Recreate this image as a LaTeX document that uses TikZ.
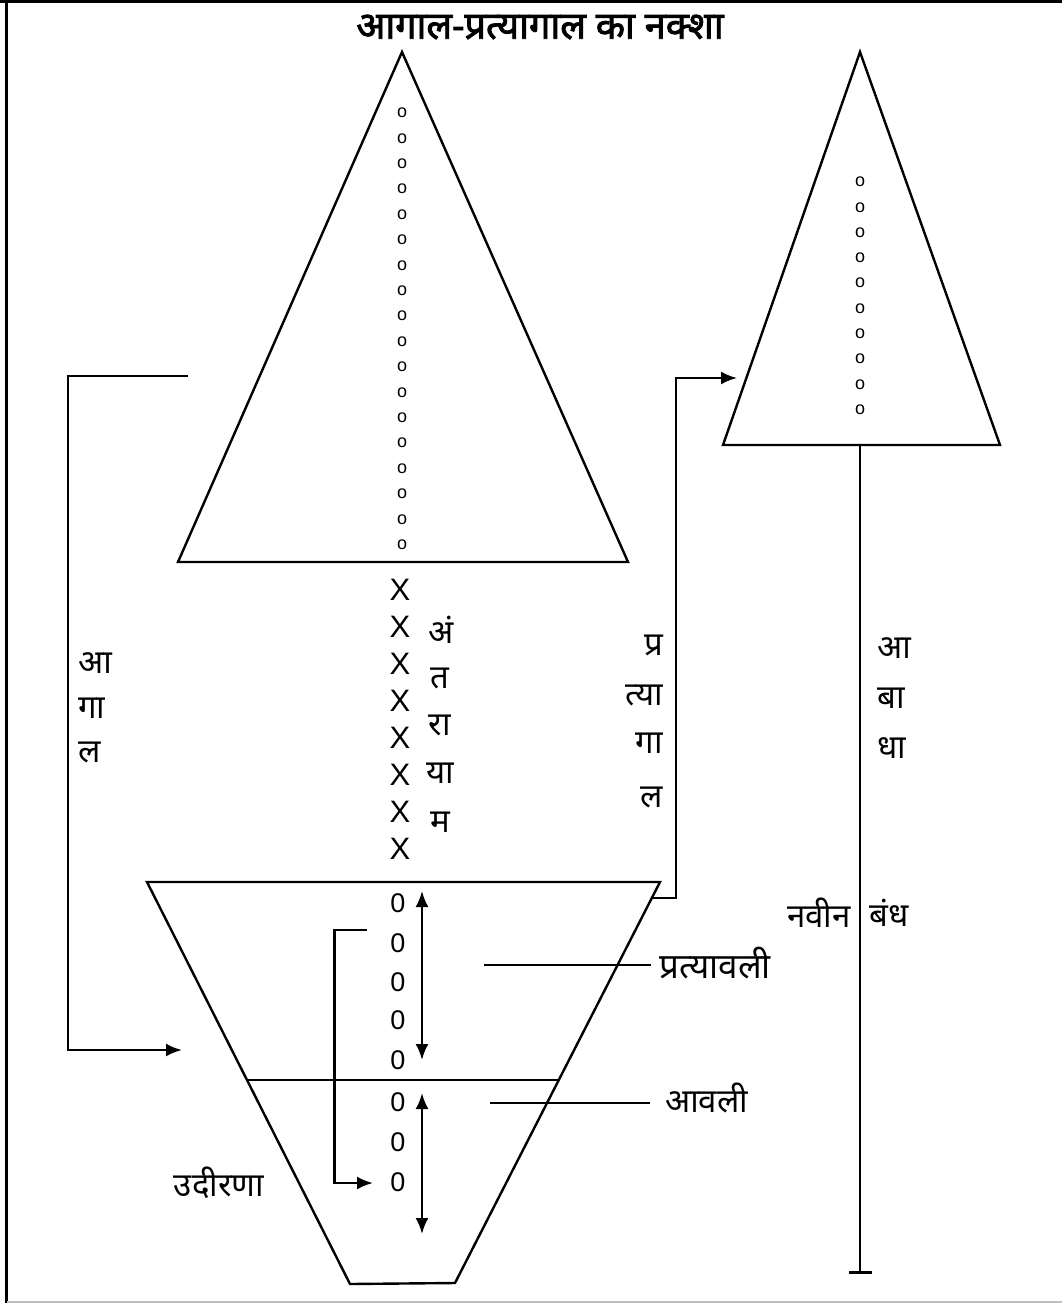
\documentclass[tikz,border=0pt]{standalone}
\usepackage{fontspec}
\setmainfont{Liberation Sans}
\newfontfamily\dev[Script=Devanagari]{Noto Sans}
\newfontfamily\devbold[Script=Devanagari, FakeBold=2.2]{Noto Sans}
\usetikzlibrary{arrows.meta}
\begin{document}
\begin{tikzpicture}[x=1pt,y=-1pt,
  shape line/.style={line width=2.4pt, line join=miter},
  conn/.style={line width=2.4pt},
  arr/.style={line width=2.4pt, -{Latex[length=16pt,width=13pt]}},
  dbl/.style={line width=2.4pt, {Latex[length=16pt,width=13pt]}-{Latex[length=16pt,width=13pt]}},
  dlabel/.style={inner sep=0pt, font=\dev\fontsize{33}{36}\selectfont},
  dot/.style={inner sep=0pt, font=\fontsize{18}{18}\selectfont},
  xmark/.style={inner sep=0pt, font=\fontsize{31}{31}\selectfont},
  zero/.style={inner sep=0pt, font=\fontsize{27}{27}\selectfont}]
\useasboundingbox (0,0) rectangle (1062,1303);
% frame
\draw[line width=2.7pt] (0,1.3) -- (1062,1.3);
\draw[line width=3pt] (6,0) -- (6,1303);
\draw[line width=1.5pt, black!25] (7,1302) -- (1062,1302);
% title
\node[inner sep=0pt, font=\devbold\fontsize{38}{42}\selectfont] (title) at (540,27) {आगाल-प्रत्यागाल का नक्शा};
% big triangle
\coordinate (A1) at (402,52);
\coordinate (A2) at (178,562);
\coordinate (A3) at (628,562);
\draw[shape line] (A1) -- (A2) -- (A3) -- cycle;
\foreach \i in {0,...,17} { \node[dot] (bd\i) at (402,{113+25.4*\i}) {o}; }
% right triangle
\coordinate (B1) at (860,52);
\coordinate (B2) at (723,445);
\coordinate (B3) at (1000,445);
\draw[shape line] (B1) -- (B2) -- (B3) -- cycle;
\foreach \i in {0,...,9} { \node[dot] (rd\i) at (860,{182+25.3*\i}) {o}; }
% abadha line
\coordinate (C1) at (860,445);
\coordinate (C2) at (860,1272);
\coordinate (C3) at (849,1272);
\coordinate (C4) at (872,1272);
\draw[conn] (C1) -- (C2);
\draw[line width=3pt] (C3) -- (C4);
\node[dlabel, anchor=west] (ab1) at (877,648) {आ};
\node[dlabel, anchor=west] (ab2) at (877,698) {बा};
\node[dlabel, anchor=west] (ab3) at (877,748) {धा};
\node[dlabel, anchor=east] (nav) at (851,913) {नवीन};
\node[dlabel, anchor=west] (bandh) at (869,913) {बंध};
% X column
\foreach \i in {0,...,7} { \node[xmark] (x\i) at (400,{590+37*\i}) {X}; }
\node[dlabel] (an1) at (441,630) {अं};
\node[dlabel] (an2) at (440,678) {त};
\node[dlabel] (an3) at (440,725) {रा};
\node[dlabel] (an4) at (440,773) {या};
\node[dlabel] (an5) at (440,822) {म};
% funnel
\coordinate (F1) at (147,882);
\coordinate (F2) at (660,882);
\coordinate (F3) at (455,1283);
\coordinate (F4) at (350,1284);
\draw[shape line] (F1) -- (F2) -- (F3) -- (F4) -- cycle;
\coordinate (M1) at (247,1080);
\coordinate (M2) at (559,1080);
\draw[conn] (M1) -- (M2);
\foreach \y [count=\i] in {903,943,982,1020,1060,1102,1142,1182} { \node[zero] (z\i) at (398,\y) {0}; }
\coordinate (D1) at (422,891);
\coordinate (D2) at (422,1060);
\coordinate (D3) at (422,1093);
\coordinate (D4) at (422,1234);
\draw[dbl] (D1) -- (D2);
\draw[dbl] (D3) -- (D4);
% udirana bracket
\coordinate (U1) at (367,930);
\coordinate (U2) at (373,1183);
\draw[arr] (U1) -- (334.5,930) |- (U2);
\node[dlabel] (udi) at (219,1183) {उदीरणा};
% leader lines
\coordinate (L1) at (484,965);
\node[dlabel, anchor=west, font=\dev\fontsize{35}{38}\selectfont] (praty) at (659,963) {प्रत्यावली};
\draw[conn] (L1) -- (651,965);
\coordinate (L2) at (489.5,1103);
\node[dlabel, anchor=west] (aval) at (665,1098) {आवली};
\draw[conn] (L2) -- (650,1103);
% agaal bracket
\coordinate (G1) at (188,376);
\coordinate (G2) at (182,1050);
\draw[arr] (G1) -- (68,376) |- (G2);
\node[dlabel, anchor=west] (ag1) at (78,663) {आ};
\node[dlabel, anchor=west] (ag2) at (78,708) {गा};
\node[dlabel, anchor=west] (ag3) at (78,752) {ल};
% pratyagaal bracket
\coordinate (P1) at (653,898);
\coordinate (P2) at (737,378);
\draw[arr] (P1) -- (676,898) |- (P2);
\node[dlabel, anchor=east] (pg1) at (663,645) {प्र};
\node[dlabel, anchor=east] (pg2) at (663,695) {त्या};
\node[dlabel, anchor=east] (pg3) at (663,743) {गा};
\node[dlabel, anchor=east] (pg4) at (663,797) {ल};
\end{tikzpicture}
\end{document}
